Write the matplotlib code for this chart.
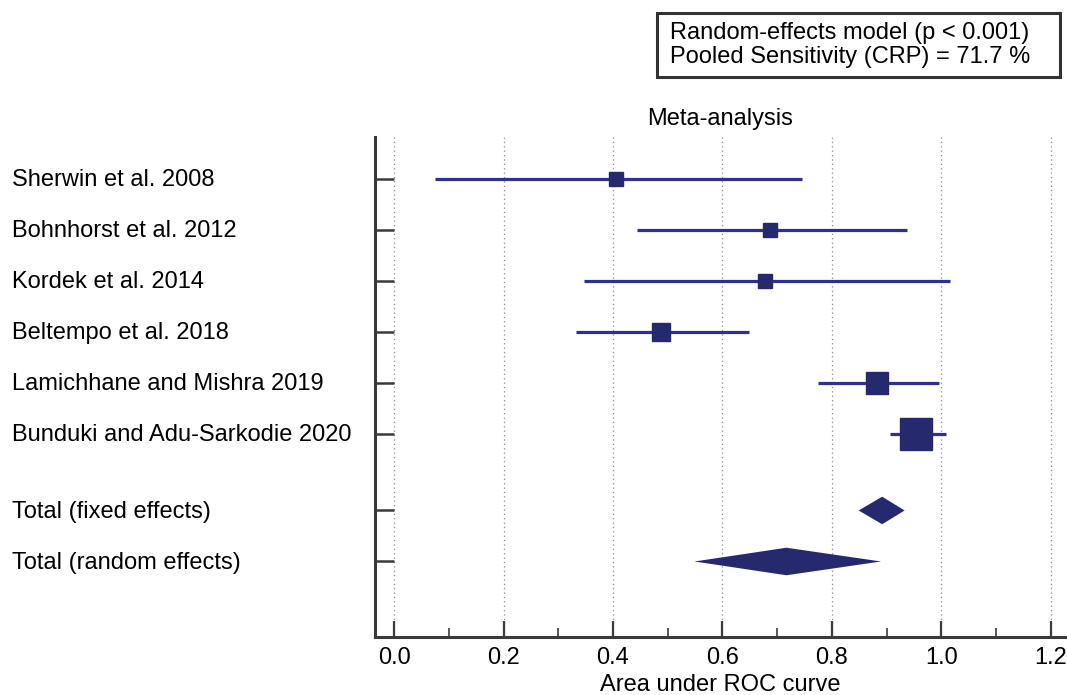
import matplotlib
matplotlib.use("Agg")
import matplotlib.pyplot as plt
import matplotlib.transforms as mtransforms
from matplotlib.patches import Rectangle
from matplotlib.ticker import MultipleLocator
import numpy as np

plt.rcParams['font.family'] = ['Liberation Sans', 'DejaVu Sans']

studies = ["Sherwin et al. 2008", "Bohnhorst et al. 2012", "Kordek et al. 2014",
           "Beltempo et al. 2018", "Lamichhane and Mishra 2019",
           "Bunduki and Adu-Sarkodie 2020"]
auc = [0.406, 0.687, 0.677, 0.488, 0.883, 0.954]
ci_low = [0.075, 0.444, 0.347, 0.332, 0.775, 0.906]
ci_high = [0.746, 0.938, 1.016, 0.648, 0.995, 1.009]
weights = [8.3, 8.3, 8.9, 13.0, 20.6, 40.8]

pooled_names = ["Total (fixed effects)", "Total (random effects)"]
pooled_est = [0.892, 0.717]
pooled_low = [0.849, 0.549]
pooled_high = [0.933, 0.890]

navy = '#27296f'
line_blue = '#2e3192'
axis_col = '#3a3a3a'
fs = 17

W, H = 1067, 695
fig = plt.figure(figsize=(W / 100, H / 100), dpi=100)
ax = fig.add_axes([375 / W, 1 - 637 / H, 691 / W, 500 / H])

y_study = np.arange(1, len(studies) + 1)
y_pooled = np.array([7.5, 8.5])

# study CIs and weighted squares
ax.hlines(y_study, ci_low, ci_high, color=line_blue, lw=2.3, zorder=3)
for y, a, w in zip(y_study, auc, weights):
    ms = 5.0 * np.sqrt(w)
    ax.plot(a, y, marker='s', ms=ms * 0.72, color=navy, mec=navy, zorder=4)

# pooled diamonds
half_h = 0.27
for y, e, lo, hi in zip(y_pooled, pooled_est, pooled_low, pooled_high):
    ax.fill([lo, e, hi, e], [y, y - half_h, y, y + half_h], color=navy, lw=0, zorder=4)

ax.set_xlim(-0.035, 1.228)
ax.set_ylim(9.98, 0.18)

ax.xaxis.set_minor_locator(MultipleLocator(0.1))
ax.set_xticks(np.arange(0, 1.21, 0.2))
ax.set_xticklabels([f"{v:.1f}" for v in np.arange(0, 1.21, 0.2)])
ax.set_yticks(list(y_study) + list(y_pooled))
ax.set_yticklabels([])

for v in np.arange(0, 1.21, 0.2):
    ax.axvline(v, color='#8a8a8a', lw=0.9, ls=(0, (1, 2.5)), zorder=1)

for s in ['top', 'right']:
    ax.spines[s].set_visible(False)
for s in ['left', 'bottom']:
    ax.spines[s].set_color(axis_col)
    ax.spines[s].set_linewidth(2.2)

ax.tick_params(axis='y', direction='in', length=13.5, width=1.8, color=axis_col)
ax.tick_params(axis='x', which='major', direction='in', length=11.5, width=1.6,
               color=axis_col, labelsize=fs, pad=7)
ax.tick_params(axis='x', which='minor', direction='in', length=6.5, width=1.2,
               color=axis_col)

ax.set_xlabel("Area under ROC curve", fontsize=fs, labelpad=4)
ax.set_title("Meta-analysis", fontsize=fs, pad=9)

trans = mtransforms.blended_transform_factory(fig.transFigure, ax.transData)
for y, name in zip(list(y_study) + list(y_pooled), studies + pooled_names):
    ax.text(12 / W, y + 0.03, name, transform=trans, ha='left', va='center',
            fontsize=fs, clip_on=False)

# summary box
fig.patches.append(Rectangle((657 / W, 1 - 77 / H), 403 / W, 64 / H,
                             transform=fig.transFigure, fc='white',
                             ec='#333333', lw=2.2))
fig.text(670 / W, 1 - 45 / H,
         "Random-effects model (p < 0.001)\nPooled Sensitivity (CRP) = 71.7 %",
         ha='left', va='center', fontsize=fs, linespacing=1.12)

fig.savefig("out.png", dpi=100)
